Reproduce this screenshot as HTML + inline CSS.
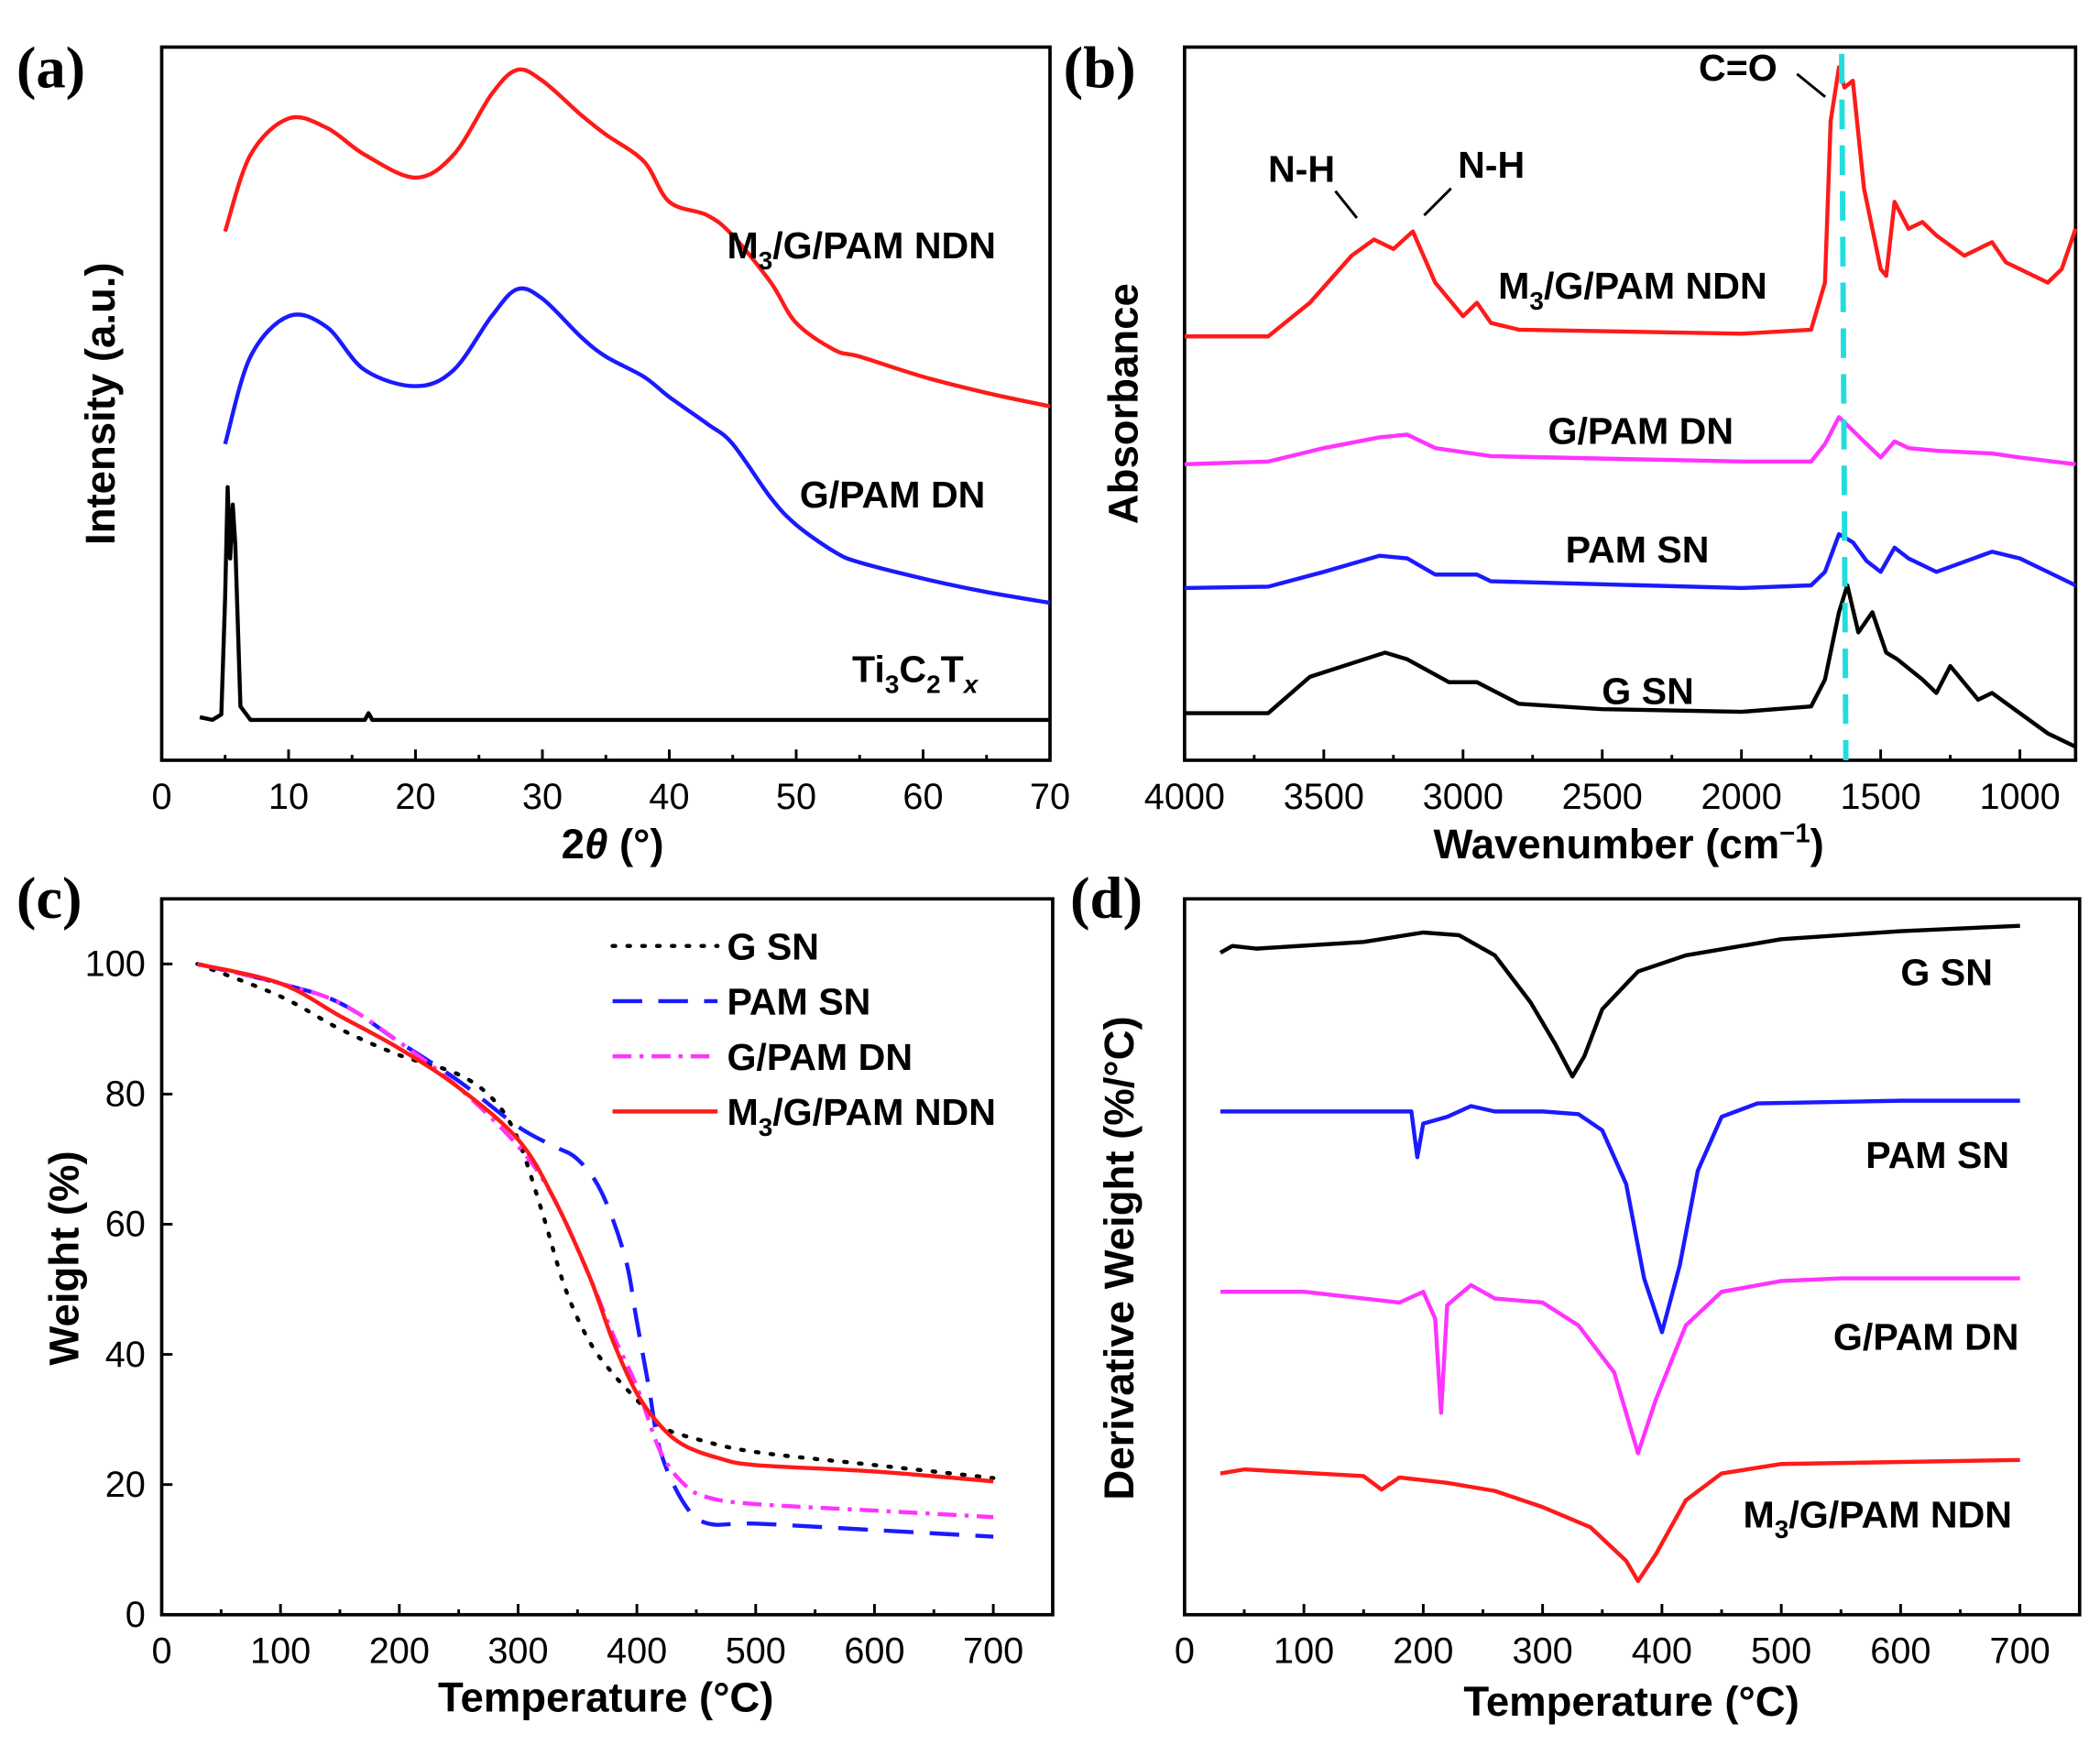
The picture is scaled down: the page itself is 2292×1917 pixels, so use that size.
<!DOCTYPE html>
<html><head><meta charset="utf-8"><style>
html,body{margin:0;padding:0;background:#fff;}
svg{display:block;font-family:"Liberation Sans",Arial,sans-serif;}
.tick{font-size:27px;}
.axt{font-size:31px;font-weight:bold;}
.lab{font-size:28px;font-weight:bold;}
.pl{font-family:"Liberation Serif",serif;font-size:44px;font-weight:bold;}
</style></head><body>
<svg id="fig" width="2292" height="1917" viewBox="0 0 1560 1305" xmlns="http://www.w3.org/2000/svg">
<g id="root"></g>
</svg>
<script>
// ---- (a) XRD ----
const aX_red=[5,7,10,13,16,20,23,26,28,30,33,35,38,40,43,45,48,50,53,55,60,65,70];
const aY_red=[393,450,477,470,450,433,450,495,513,505,480,465,445,415,405,390,355,325,305,300,285,273,263];
const aX_blue=[5,7,10,13,16,20,23,26,28,30,33,35,38,40,43,45,48,50,53,55,60,65,70];
const aY_blue=[235,300,330,322,290,278,290,330,350,343,315,300,285,270,250,235,195,175,155,147,135,125,117];
const aX_black=[3,4,4.7,5.0,5.2,5.4,5.6,5.8,6.2,7,16,16.3,16.6,30,70];
const aY_black=[32,30,34,120,203,150,190,160,40,30,30,35,30,30,30];
// ---- (b) FTIR ----
const bX_red=[4000,3700,3550,3400,3320,3250,3180,3100,3000,2950,2900,2800,2000,1750,1700,1680,1650,1630,1600,1560,1500,1480,1450,1400,1350,1300,1200,1100,1050,1000,900,850,800];
const bY_red=[315,315,340,375,387,380,393,355,330,340,325,320,317,320,355,475,515,500,505,425,365,360,415,395,400,390,375,385,370,365,355,365,395];
const bX_mag=[4000,3700,3500,3300,3200,3100,2900,2000,1750,1700,1650,1600,1550,1500,1450,1400,1300,1100,1000,800];
const bY_mag=[220,222,232,240,242,232,226,222,222,235,255,245,235,225,237,232,230,228,225,220];
const bX_blue=[4000,3700,3500,3300,3200,3100,2950,2900,2000,1750,1700,1650,1600,1550,1500,1450,1400,1300,1100,1000,900,800];
const bY_blue=[128,129,140,152,150,138,138,133,128,130,140,168,162,148,140,158,150,140,155,150,140,130];
const bX_black=[4000,3700,3550,3400,3280,3200,3050,2950,2800,2500,2000,1750,1700,1650,1620,1580,1530,1480,1440,1350,1300,1250,1150,1100,1000,900,800];
const bY_black=[35,35,62,72,80,75,58,58,42,38,36,40,60,110,130,95,110,80,75,60,50,70,45,50,35,20,10];
// ---- (c) TGA ----
const cX_g=[30,100,150,200,250,280,300,320,340,360,380,400,420,450,500,600,700];
const cY_g=[100,95,90,86,83,79,73,62,50,42,37,33,29,27,25,23,21];
const cX_pam=[30,100,150,200,250,300,330,350,370,390,400,410,420,440,460,500,600,700];
const cY_pam=[100,97,94,88,82,75,72,70,65,55,45,35,25,17,14,14,13,12];
const cX_gpam=[30,100,150,200,250,300,330,360,380,400,420,440,460,500,600,700];
const cY_gpam=[100,97,94,88,81,72,64,52,43,35,25,20,18,17,16,15];
const cX_m3=[30,100,150,200,250,300,330,360,380,400,420,440,470,500,600,700];
const cY_m3=[100,97,92,87,81,73,64,52,42,34,29,26,24,23,22,20.5];
// ---- (d) DTG ----
const dX_g=[30,40,60,150,200,230,260,290,310,325,335,350,380,420,500,600,700];
const dY_g=[492,497,495,500,507,505,490,455,425,400,415,450,478,490,502,508,512];
const dX_pam=[30,100,190,195,200,220,240,260,300,330,350,370,385,400,415,430,450,480,600,700];
const dY_pam=[374,374,374,340,365,370,378,374,374,372,360,320,250,210,260,330,370,380,382,382];
const dX_gpam=[30,100,180,200,210,215,220,240,260,300,330,360,380,395,420,450,500,550,700];
const dY_gpam=[240,240,232,240,220,150,230,245,235,232,215,180,120,160,215,240,248,250,250];
const dX_m3=[30,50,150,165,180,220,260,300,340,370,380,395,420,450,500,700];
const dY_m3=[105,108,103,93,102,98,92,80,65,40,25,45,85,105,112,115];
const ticksA=[0,10,20,30,40,50,60,70];
const ticksB=[4000,3500,3000,2500,2000,1500,1000];
const ticksT=[0,100,200,300,400,500,600,700];
const ticksW=[0,20,40,60,80,100];

const NS="http://www.w3.org/2000/svg";
const root=document.getElementById('root');
function el(tag,attrs,parent){const e=document.createElementNS(NS,tag);for(const k in attrs)e.setAttribute(k,attrs[k]);(parent||root).appendChild(e);return e;}
function txt(s,x,y,cls,anchor,parent){const t=el('text',{x:x,y:y,class:cls,'text-anchor':anchor||'middle'},parent);t.innerHTML=s;return t;}
function pathD(pts,smooth){
  if(!smooth) return pts.map((p,i)=>(i?'L':'M')+p[0].toFixed(1)+','+p[1].toFixed(1)).join(' ');
  let d='M'+pts[0][0].toFixed(1)+','+pts[0][1].toFixed(1);
  for(let i=0;i<pts.length-1;i++){
    const p0=pts[i-1]||pts[i],p1=pts[i],p2=pts[i+1],p3=pts[i+2]||p2;
    const c1=[p1[0]+(p2[0]-p0[0])/6,p1[1]+(p2[1]-p0[1])/6];
    const c2=[p2[0]-(p3[0]-p1[0])/6,p2[1]-(p3[1]-p1[1])/6];
    d+=' C'+c1.map(v=>v.toFixed(1)).join(',')+' '+c2.map(v=>v.toFixed(1)).join(',')+' '+p2[0].toFixed(1)+','+p2[1].toFixed(1);
  }
  return d;
}

function panel(P){
  const g=el('g',{});
  
  
  const sx=v=>P.x0+(v-P.xmin)/(P.xmax-P.xmin)*(P.x1-P.x0);
  const sy=v=>P.y1-(v-P.ymin)/(P.ymax-P.ymin)*(P.y1-P.y0);
  const frame=el('rect',{x:P.x0,y:P.y0,width:P.x1-P.x0,height:P.y1-P.y0,fill:'none',stroke:'#000','stroke-width':2.5},g);
  
  
  P.xt.forEach(v=>{
    const t=el('line',{x1:sx(v),x2:sx(v),y1:P.y1,y2:P.y1-8,stroke:'#000','stroke-width':2},g);
    
    
    const l=txt(String(v),sx(v),P.y1+36,'tick','middle',g);
    
    
  });
  for(let i=0;i<P.xt.length-1;i++){const m=(P.xt[i]+P.xt[i+1])/2;
    const t=el('line',{x1:sx(m),x2:sx(m),y1:P.y1,y2:P.y1-4,stroke:'#000','stroke-width':2},g);
    
    }
  if(P.yt){P.yt.forEach(v=>{
    const t=el('line',{x1:P.x0,x2:P.x0+8,y1:sy(v),y2:sy(v),stroke:'#000','stroke-width':2},g);
    
    
    const l=txt(String(v),P.x0-12,sy(v)+9,'tick','end',g);
    
    
  });}
  P.series.forEach(s=>{
    const pts=s.x.map((v,i)=>[sx(v),sy(s.y[i])]);
    const p=el('path',{d:pathD(pts,s.smooth),fill:'none',stroke:s.c,'stroke-width':3,'stroke-linejoin':'round','stroke-dasharray':s.dash||'none','stroke-linecap':s.cap||'butt'},g);
    
    
  });
  return {sx,sy,g};
}

const A=panel({name:'panel-a-xrd',x0:120,x1:780,y0:35,y1:565,xmin:0,xmax:70,ymin:0,ymax:530,xt:ticksA,
 series:[{x:aX_red,y:aY_red,c:'#ff1a1a',n:'xrd-m3-curve',smooth:true},{x:aX_blue,y:aY_blue,c:'#1a1aff',n:'xrd-gpam-curve',smooth:true},{x:aX_black,y:aY_black,c:'#000',n:'xrd-ti3c2-curve'}]});
const B=panel({name:'panel-b-ftir',x0:880,x1:1542,y0:35,y1:565,xmin:4000,xmax:800,ymin:0,ymax:530,xt:ticksB,
 series:[{x:bX_red,y:bY_red,c:'#ff1a1a',n:'ftir-m3-curve'},{x:bX_mag,y:bY_mag,c:'#ff33ff',n:'ftir-gpam-curve'},{x:bX_blue,y:bY_blue,c:'#1a1aff',n:'ftir-pam-curve'},{x:bX_black,y:bY_black,c:'#000',n:'ftir-g-curve'}]});
const cy=el('line',{x1:B.sx(1640),x2:B.sx(1625),y1:40,y2:565,stroke:'#22dddd','stroke-width':4,'stroke-dasharray':'22,12'});


const C=panel({name:'panel-c-tga',x0:120,x1:782,y0:668,y1:1200,xmin:0,xmax:750,ymin:0,ymax:110,xt:ticksT,yt:ticksW,
 series:[{x:cX_g,y:cY_g,c:'#000',n:'tga-g-curve',dash:'2,9',cap:'round',smooth:true},{x:cX_pam,y:cY_pam,c:'#1a1aff',n:'tga-pam-curve',dash:'22,12',smooth:true},{x:cX_gpam,y:cY_gpam,c:'#ff33ff',n:'tga-gpam-curve',dash:'14,6,3,6',smooth:true},{x:cX_m3,y:cY_m3,c:'#ff1a1a',n:'tga-m3-curve',smooth:true}]});
const D=panel({name:'panel-d-dtg',x0:880,x1:1545,y0:668,y1:1200,xmin:0,xmax:750,ymin:0,ymax:532,xt:ticksT,
 series:[{x:dX_g,y:dY_g,c:'#000',n:'dtg-g-curve'},{x:dX_pam,y:dY_pam,c:'#1a1aff',n:'dtg-pam-curve'},{x:dX_gpam,y:dY_gpam,c:'#ff33ff',n:'dtg-gpam-curve'},{x:dX_m3,y:dY_m3,c:'#ff1a1a',n:'dtg-m3-curve'}]});

// legend for (c)
const leg=[['G  SN','#000','2,9'],['PAM SN','#1a1aff','22,12'],['G/PAM DN','#ff33ff','14,6,3,6'],['M<tspan font-size="19" dy="8">3</tspan><tspan dy="-8">/G/PAM NDN</tspan>','#ff1a1a','none']];
leg.forEach((l,i)=>{const y=703+i*41;
  const ln=el('line',{x1:455,x2:533,y1:y,y2:y,stroke:l[1],'stroke-width':3,'stroke-dasharray':l[2],'stroke-linecap':i==0?'round':'butt'});
  
  
  const t=txt(l[0],540,y+10,'lab','start');
  
  
});
</script>
<script>
const R=document.getElementById('root');
R.insertAdjacentHTML('beforeend',`
<text class="pl" x="12" y="65">(a)</text>
<text class="pl" x="790" y="65">(b)</text>
<text class="pl" x="12" y="682">(c)</text>
<text class="pl" x="795" y="682">(d)</text>
<text class="axt" x="455" y="638" text-anchor="middle">2<tspan font-style="italic">θ</tspan> (°)</text>
<text class="axt" transform="translate(85,300) rotate(-90)" text-anchor="middle">Intensity (a.u.)</text>
<text class="axt" x="1210" y="638" text-anchor="middle">Wavenumber (cm<tspan font-size="20" dy="-12">−1</tspan><tspan dy="12">)</tspan></text>
<text class="axt" transform="translate(845,300) rotate(-90)" text-anchor="middle">Absorbance</text>
<text class="axt" x="450" y="1272" text-anchor="middle">Temperature (°C)</text>
<text class="axt" transform="translate(58,935) rotate(-90)" text-anchor="middle">Weight (%)</text>
<text class="axt" x="1212" y="1275" text-anchor="middle">Temperature (°C)</text>
<text class="axt" transform="translate(842,935) rotate(-90)" text-anchor="middle">Derivative Weight (%/°C)</text>
<text class="lab" x="540" y="192">M<tspan font-size="19" dy="8">3</tspan><tspan dy="-8">/G/PAM NDN</tspan></text>
<text class="lab" x="594" y="377">G/PAM DN</text>
<text class="lab" x="633" y="507">Ti<tspan font-size="19" dy="8">3</tspan><tspan dy="-8">C</tspan><tspan font-size="19" dy="8">2</tspan><tspan dy="-8">T</tspan><tspan font-size="19" font-style="italic" dy="8">x</tspan></text>
<text class="lab" x="1113" y="222">M<tspan font-size="19" dy="8">3</tspan><tspan dy="-8">/G/PAM NDN</tspan></text>
<text class="lab" x="1150" y="330">G/PAM DN</text>
<text class="lab" x="1163" y="418">PAM SN</text>
<text class="lab" x="1190" y="523">G SN</text>
<text class="lab" x="942" y="135">N-H</text>
<text class="lab" x="1083" y="132">N-H</text>
<text class="lab" x="1262" y="60">C=O</text>
<line x1="992" y1="142" x2="1008" y2="162" stroke="#000" stroke-width="2"/>
<line x1="1078" y1="140" x2="1058" y2="160" stroke="#000" stroke-width="2"/>
<line x1="1335" y1="55" x2="1356" y2="72" stroke="#000" stroke-width="2"/>
<text class="lab" x="1412" y="732">G SN</text>
<text class="lab" x="1386" y="868">PAM SN</text>
<text class="lab" x="1362" y="1003">G/PAM DN</text>
<text class="lab" x="1295" y="1135">M<tspan font-size="19" dy="8">3</tspan><tspan dy="-8">/G/PAM NDN</tspan></text>
`);
</script>
</body></html>
